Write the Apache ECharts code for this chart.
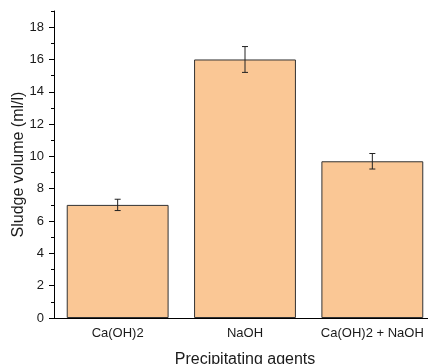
<!DOCTYPE html>
<html>
<head>
<meta charset="utf-8">
<script src="https://cdn.jsdelivr.net/npm/echarts@6/dist/echarts.min.js"></script>
<style>
  html, body { margin: 0; padding: 0; background: #fff; }
  #chart { width: 428px; height: 364px; }
</style>
</head>
<body>
<div id="chart"></div>
<script>
const agents = ["Ca(OH)2", "NaOH", "Ca(OH)2 + NaOH"];
const sludgeVolume = [7.0, 16.0, 9.7];
const sludgeError = [0.35, 0.8, 0.48];
const majorTicks = [0, 2, 4, 6, 8, 10, 12, 14, 16, 18];
const minorTicks = [1, 3, 5, 7, 9, 11, 13, 15, 17, 19];

const font = "Liberation Sans";
const ink = "#1a1a1a";

const chart = echarts.init(document.getElementById("chart"));

function renderErrorBar(params, api) {
  const i = api.value(0);
  const low = api.coord([i, api.value(1)]);
  const high = api.coord([i, api.value(2)]);
  const cap = 3;
  const style = { stroke: "#222", lineWidth: 1, fill: null };
  return {
    type: "group",
    children: [
      { type: "line", shape: { x1: high[0], y1: high[1], x2: low[0], y2: low[1] }, style: style },
      { type: "line", shape: { x1: high[0] - cap, y1: high[1], x2: high[0] + cap, y2: high[1] }, style: style },
      { type: "line", shape: { x1: low[0] - cap, y1: low[1], x2: low[0] + cap, y2: low[1] }, style: style },
    ],
  };
}

chart.setOption({
  animation: false,
  grid: { left: 54, top: 11, bottom: 46, right: -8, outerBoundsMode: "none", containLabel: false },
  xAxis: [
    {
      type: "category",
      data: agents,
      position: "bottom",
      name: "Precipitating agents",
      nameLocation: "middle",
      nameGap: 34,
      nameMoveOverlap: false,
      nameTextStyle: { fontFamily: font, fontSize: 16, color: ink },
      axisLine: { lineStyle: { color: "#000", width: 1 } },
      axisTick: { alignWithLabel: true, length: 4, lineStyle: { color: "#000" } },
      axisLabel: { interval: 0, hideOverlap: false, fontFamily: font, fontSize: 13, color: ink, margin: 9 },
    },
    {
      type: "category",
      data: agents,
      position: "bottom",
      axisLine: { show: false },
      axisTick: { interval: 0, length: 2, lineStyle: { color: "#000" } },
      axisLabel: { show: false },
    },
  ],
  yAxis: [
    {
      type: "value",
      min: 0,
      max: 19,
      name: "Sludge volume (ml/l)",
      nameLocation: "middle",
      nameGap: 27,
      nameMoveOverlap: false,
      nameTextStyle: { fontFamily: font, fontSize: 16, color: ink },
      splitLine: { show: false },
      axisLine: { show: true, lineStyle: { color: "#000", width: 1 } },
      axisTick: { show: true, length: 5, customValues: majorTicks, lineStyle: { color: "#000" } },
      axisLabel: { fontFamily: font, fontSize: 13, color: ink, margin: 10, customValues: majorTicks },
    },
    {
      type: "value",
      min: 0,
      max: 19,
      position: "left",
      offset: 0,
      splitLine: { show: false },
      axisLine: { show: false },
      axisTick: { show: true, length: 3, customValues: minorTicks, lineStyle: { color: "#000" } },
      axisLabel: { show: false },
    },
  ],
  series: [
    {
      type: "bar",
      data: sludgeVolume,
      barWidth: "80%",
      itemStyle: { color: "#FAC795", borderColor: "#333", borderWidth: 1 },
    },
    {
      type: "custom",
      renderItem: renderErrorBar,
      data: sludgeVolume.map((v, i) => [i, v - sludgeError[i], v + sludgeError[i]]),
      encode: { x: 0, y: [1, 2] },
      z: 3,
    },
  ],
});
</script>
</body>
</html>
